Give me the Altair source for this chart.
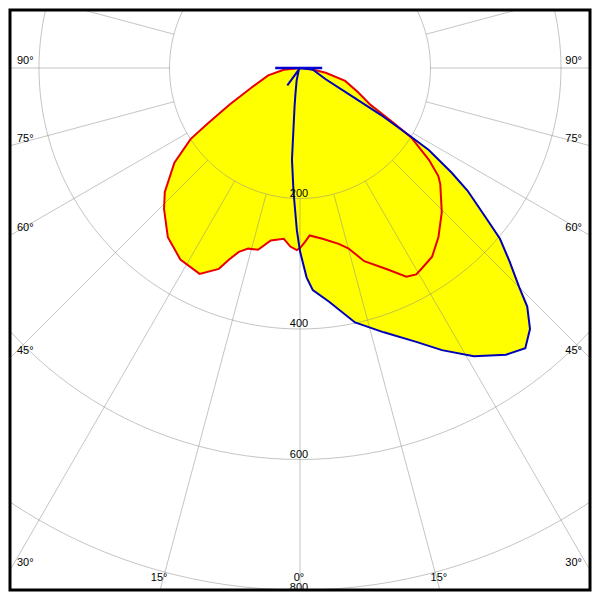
import altair as alt
import pandas as pd

# ---- photometric data (angle in degrees from nadir, intensity in cd/klm) ----
red_angle = [-90, -84, -77, -68, -62.5, -59, -57, -53, -47.5, -44, -38, -32, -26, -22, -20.3,
             -18.4, -16, -13, -9.6, -5.4, -3.1, -1, 0, 1.6, 3.3, 7.5, 12.4, 15, 18.4, 23.4,
             27, 29.4, 31.5, 35, 39.3, 44.5, 50.4, 52, 54.5, 58, 59.6, 62.4, 67.4, 74, 79.4, 85, 90]
red_cd = [0, 25, 50, 80, 122, 164, 200, 241, 281, 300, 329, 346, 351, 332, 313,
          297, 288, 286, 268, 263, 274, 279, 276, 267, 257, 264, 276, 286, 312, 336,
          359, 363, 359, 353, 335, 310, 279, 269, 243, 201, 166, 122, 96, 72, 40, 15, 0]

blue_angle = [-90, -40, -36, -33, -20, -15, -10, -8, -6.2, -5, -3, -2, -1.1, 0, 1.8, 3.3,
              7.1, 12.2, 17.6, 23, 26.7, 31.1, 35.7, 38.8, 41.4, 43.6, 45, 47.3, 49.5, 51,
              53.8, 55.4, 57.5, 58.3, 59.9, 61.9, 66.3, 82.7, 90]
blue_cd = [0, 3, 33, 3, 8, 20, 40, 60, 92, 141, 190, 217, 249, 281, 321, 341,
           361, 399, 425, 456, 484, 516, 541, 551, 533, 505, 475, 437, 403, 369,
           318, 282, 234, 197, 143, 84, 43, 20, 0]

ring_values = [200, 400, 600, 800]
ring_labels = ["200", "400", "600", "800"]
spoke_angles = list(range(0, 360, 15))
side_label_angles = [-90, -75, -60, -45, -30, 30, 45, 60, 75, 90]
bottom_label_angles = [-15, 0, 15]
lamp_extent = [-38, 34]

W = 584
XMAX = 444.44
YTOP = 88.89
YBOT = -800.0

xs = alt.Scale(domain=[-XMAX, XMAX], nice=False, zero=False)
ys = alt.Scale(domain=[YBOT, YTOP], nice=False, zero=False)
X = lambda f: alt.X(f, type="quantitative", scale=xs, axis=None)
Y = lambda f: alt.Y(f, type="quantitative", scale=ys, axis=None)

curves = pd.concat([
    pd.DataFrame({"curve": "C0-C180", "i": range(len(red_angle)), "a": red_angle, "cd": red_cd}),
    pd.DataFrame({"curve": "C90-C270", "i": range(len(blue_angle)), "a": blue_angle, "cd": blue_cd}),
])

polar = dict(px="datum.cd*sin(datum.a*PI/180)", py="-datum.cd*cos(datum.a*PI/180)")

fill = alt.Chart(curves).transform_calculate(**polar).mark_line(
    fill="#ffff00", stroke="#ffff00", strokeWidth=0.5, clip=True
).encode(x=X("px"), y=Y("py"), order="i:Q", detail="curve:N")

# grid rings
ring_rows = [{"r": r, "t": t} for r in ring_values for t in range(0, 362, 2)]
rings = alt.Chart(pd.DataFrame(ring_rows)).transform_calculate(
    px="datum.r*sin(datum.t*PI/180)", py="-datum.r*cos(datum.t*PI/180)"
).mark_line(stroke="#8a8a8a", strokeWidth=1, opacity=0.5, clip=True).encode(
    x=X("px"), y=Y("py"), order="t:Q", detail="r:N")

spokes = alt.Chart(pd.DataFrame({"t": spoke_angles})).transform_calculate(
    x1="200*sin(datum.t*PI/180)", y1="-200*cos(datum.t*PI/180)",
    x2="1400*sin(datum.t*PI/180)", y2="-1400*cos(datum.t*PI/180)"
).mark_rule(stroke="#8a8a8a", strokeWidth=1, opacity=0.5, clip=True).encode(
    x=X("x1"), y=Y("y1"), x2="x2:Q", y2="y2:Q")

red_line = alt.Chart(curves[curves.curve == "C0-C180"]).transform_calculate(**polar).mark_line(
    stroke="#e80000", strokeWidth=2, clip=True
).encode(x=X("px"), y=Y("py"), order="i:Q")

blue_line = alt.Chart(curves[curves.curve == "C90-C270"]).transform_calculate(**polar).mark_line(
    stroke="#0000b8", strokeWidth=2, clip=True
).encode(x=X("px"), y=Y("py"), order="i:Q")

lamp = alt.Chart(pd.DataFrame({"x1": [lamp_extent[0]], "x2": [lamp_extent[1]], "y": [0]})).mark_rule(
    stroke="#0000d0", strokeWidth=2.5
).encode(x=X("x1"), x2="x2:Q", y=Y("y"))

font = dict(font="Liberation Sans", fontSize=11, color="#000000")

ring_text = alt.Chart(pd.DataFrame({"r": ring_values, "lab": ring_labels})).transform_calculate(
    x0="0", y0="datum.r >= 800 ? -datum.r - 4 : -datum.r"
).mark_text(baseline="bottom", align="center", dx=-1, dy=0, clip=True, **font).encode(
    x=X("x0"), y=Y("y0"), text="lab:N")

side = pd.DataFrame({"a": side_label_angles})
side["lab"] = [f"{abs(a)}°" for a in side_label_angles]
left_text = alt.Chart(side[side.a < 0]).transform_calculate(
    x0=f"-{XMAX}", y0=f"abs(datum.a) == 90 ? 0 : -{XMAX}/tan(abs(datum.a)*PI/180)"
).mark_text(align="left", baseline="bottom", dx=7, dy=-2, **font).encode(
    x=X("x0"), y=Y("y0"), text="lab:N")
right_text = alt.Chart(side[side.a > 0]).transform_calculate(
    x0=f"{XMAX}", y0=f"abs(datum.a) == 90 ? 0 : -{XMAX}/tan(abs(datum.a)*PI/180)"
).mark_text(align="right", baseline="bottom", dx=-8, dy=-2, **font).encode(
    x=X("x0"), y=Y("y0"), text="lab:N")

bottom = pd.DataFrame({"a": bottom_label_angles})
bottom["lab"] = [f"{abs(a)}°" for a in bottom_label_angles]
bottom_text = alt.Chart(bottom).transform_calculate(
    x0=f"{-YBOT}*tan(datum.a*PI/180)", y0=f"{YBOT}"
).mark_text(align="center", baseline="bottom", dx=-1, dy=-7, **font).encode(
    x=X("x0"), y=Y("y0"), text="lab:N")

frame = alt.Chart(pd.DataFrame({"k": [0]})).mark_rect(
    fill="transparent", stroke="#000000", strokeWidth=3
).encode(x=alt.value(0), x2=alt.value({"expr": "width"}),
         y=alt.value(0), y2=alt.value({"expr": "height"}))

chart = alt.layer(
    fill, rings, spokes, red_line, blue_line, lamp, ring_text, left_text, right_text, bottom_text, frame
).properties(
    width=W, height=W, padding=0,
    autosize=alt.AutoSizeParams(type="fit", contains="padding"),
    background="#ffffff",
).configure_view(strokeWidth=0)

chart.save("out.html", embed_options={"renderer": "svg", "actions": False})
